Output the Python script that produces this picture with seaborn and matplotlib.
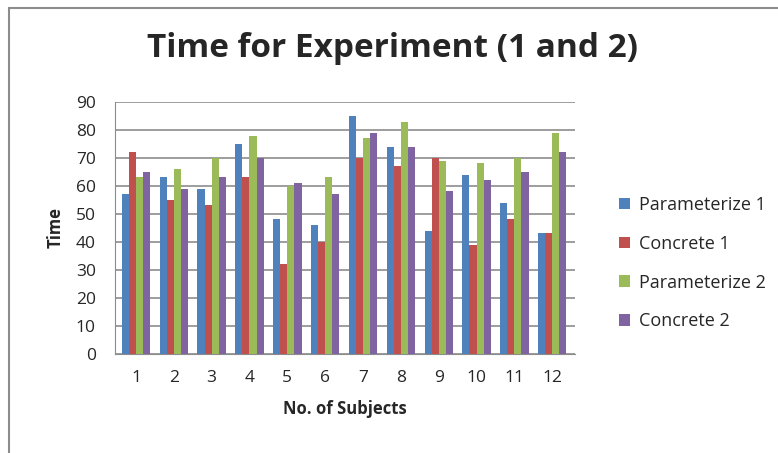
import matplotlib
matplotlib.use('Agg')
import matplotlib.pyplot as plt
from matplotlib.lines import Line2D
import seaborn as sns
import pandas as pd

subjects = ['1', '2', '3', '4', '5', '6', '7', '8', '9', '10', '11', '12']
param1 = [57, 63, 59, 75, 48, 46, 85, 74, 44, 64, 54, 43]
concrete1 = [72, 55, 53, 63, 32, 40, 70, 67, 70, 39, 48, 43]
param2 = [63, 66, 70, 78, 60, 63, 77, 83, 69, 68, 70, 79]
concrete2 = [65, 59, 63, 70, 61, 57, 79, 74, 58, 62, 65, 72]
series = ['Parameterize 1', 'Concrete 1', 'Parameterize 2', 'Concrete 2']
colors = ['#4F81BD', '#C0504D', '#9BBB59', '#8064A2']

rows = []
for name, vals in zip(series, [param1, concrete1, param2, concrete2]):
    for s, v in zip(subjects, vals):
        rows.append({'Subject': s, 'Series': name, 'Time': v})
df = pd.DataFrame(rows)

sns.set_style('white')
plt.rcParams['font.family'] = ['Open Sans', 'DejaVu Sans']

fig = plt.figure(figsize=(7.78, 4.53), dpi=100)
ax = fig.add_axes([0.148, 0.219, 0.591, 0.556])

sns.barplot(data=df, x='Subject', y='Time', hue='Series', palette=colors,
            width=0.75, ax=ax, saturation=1, edgecolor='none', zorder=3)

ax.set_ylim(0, 90)
ax.set_yticks(range(0, 91, 10))
ax.yaxis.grid(True, color='#8c8c8c', lw=1.2, zorder=0)
ax.set_xlim(-0.55, 11.6)
for side in ['top', 'right']:
    ax.spines[side].set_visible(False)
ax.spines['left'].set_color('#8c8c8c')
ax.spines['bottom'].set_color('#8c8c8c')
ax.tick_params(axis='both', labelsize=12.5, length=0)
ax.tick_params(axis='x', pad=12)
ax.tick_params(axis='y', pad=14)
ax.set_xlabel('No. of Subjects', fontsize=12, fontweight='bold', labelpad=10)
ax.set_ylabel('Time', fontsize=12, fontweight='bold', labelpad=8)

ax.legend(loc='center left', bbox_to_anchor=(1.06, 0.36), frameon=False,
          fontsize=13, handlelength=0.6, handleheight=0.6,
          labelspacing=1.15, handletextpad=0.5)

fig.suptitle('Time for Experiment (1 and 2)', x=0.505, y=0.93,
             fontsize=24, fontweight='bold')

# partial outer frame (left and top edges)
fig.add_artist(Line2D([0.011, 0.011], [0.0, 0.982], transform=fig.transFigure,
                      color='#8c8c8c', lw=1.5))
fig.add_artist(Line2D([0.011, 1.0], [0.982, 0.982], transform=fig.transFigure,
                      color='#8c8c8c', lw=1.5))

plt.savefig('out.png', dpi=100)
